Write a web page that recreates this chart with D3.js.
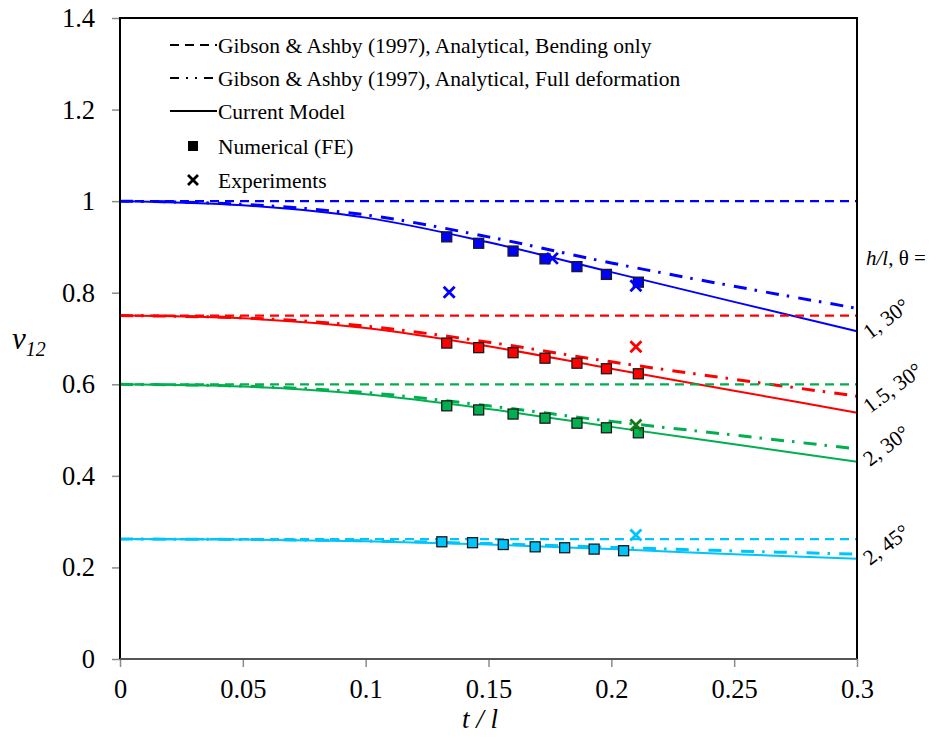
<!DOCTYPE html>
<html><head><meta charset="utf-8">
<script src="https://cdn.jsdelivr.net/npm/d3@7"></script>
<style>body{margin:0;background:#fff}svg{display:block}</style>
</head><body>
<svg id="c" width="949" height="738"></svg>
<script>
// ---- data ----
const xTicks = [0, 0.05, 0.1, 0.15, 0.2, 0.25, 0.3];
const xTickLabels = ["0", "0.05", "0.1", "0.15", "0.2", "0.25", "0.3"];
const yTicks = [0, 0.2, 0.4, 0.6, 0.8, 1, 1.2, 1.4];
const yTickLabels = ["0", "0.2", "0.4", "0.6", "0.8", "1", "1.2", "1.4"];

const seriesNames = ["1, 30°", "1.5, 30°", "2, 30°", "2, 45°"];
const seriesColors = ["#0000ff", "#ff0000", "#00b050", "#00c4fa"];
const expColors = ["#0000ff", "#ff0000", "#137a13", "#00c4fa"];

// Gibson & Ashby, bending only (constant)
const bendingOnly = [1.0, 0.75, 0.6, 0.262];

// curves sampled along t/l
const tCurve = [0, 0.05, 0.1, 0.15, 0.2, 0.25, 0.3];
const currentBlue  = [1.0, 0.991, 0.964, 0.910, 0.845, 0.780, 0.716];
const currentRed   = [0.75, 0.744, 0.723, 0.683, 0.634, 0.586, 0.538];
const currentGreen = [0.60, 0.595, 0.578, 0.546, 0.507, 0.469, 0.431];
const currentCyan  = [0.262, 0.261, 0.257, 0.250, 0.240, 0.229, 0.219];

const fullBlue  = [1.0, 0.993, 0.970, 0.922, 0.865, 0.814, 0.766];
const fullRed   = [0.75, 0.745, 0.727, 0.692, 0.649, 0.611, 0.574];
const fullGreen = [0.60, 0.596, 0.582, 0.553, 0.519, 0.489, 0.459];
const fullCyan  = [0.262, 0.261, 0.258, 0.252, 0.244, 0.236, 0.229];

// numerical (FE)
const feT      = [0.133, 0.146, 0.160, 0.173, 0.186, 0.198, 0.211];
const feBlue   = [0.922, 0.908, 0.891, 0.874, 0.857, 0.840, 0.823];
const feRed    = [0.690, 0.680, 0.669, 0.657, 0.646, 0.634, 0.623];
const feGreen  = [0.553, 0.544, 0.535, 0.526, 0.515, 0.505, 0.494];
const feTCyan  = [0.131, 0.1435, 0.156, 0.169, 0.181, 0.193, 0.205];
const feCyan   = [0.256, 0.254, 0.250, 0.245, 0.243, 0.240, 0.2365];

// experiments
const expTBlue = [0.134, 0.176, 0.210];
const expBlue  = [0.801, 0.875, 0.815];
const expTRed = [0.210], expRed = [0.682];
const expTGreen = [0.210], expGreen = [0.511];
const expTCyan = [0.210], expCyan = [0.271];

const legendLabels = [
  "Gibson & Ashby (1997), Analytical, Bending only",
  "Gibson & Ashby (1997), Analytical, Full deformation",
  "Current Model",
  "Numerical (FE)",
  "Experiments"
];

// ---- layout ----
const L = 120, R = 857, T = 18, B = 659;
const svg = d3.select("#c");
const x = d3.scaleLinear().domain([0, 0.3]).range([L, R]);
const y = d3.scaleLinear().domain([0, 1.4]).range([B, T]);
const serif = "'Liberation Serif','Times New Roman',Times,serif";

const currents = [currentBlue, currentRed, currentGreen, currentCyan];
const fulls = [fullBlue, fullRed, fullGreen, fullCyan];
const feTs = [feT, feT, feT, feTCyan];
const fes = [feBlue, feRed, feGreen, feCyan];
const expTs = [expTBlue, expTRed, expTGreen, expTCyan];
const exps = [expBlue, expRed, expGreen, expCyan];

const dashDot = "13,8,2.5,9.2";
const dashed = "9,6";

// axes ticks
const gx = svg.append("g").attr("transform", `translate(0,${B})`)
  .call(d3.axisBottom(x).tickValues(xTicks).tickFormat((d,i)=>xTickLabels[i]).tickSize(8).tickPadding(12));
const gy = svg.append("g").attr("transform", `translate(${L},0)`)
  .call(d3.axisLeft(y).tickValues(yTicks).tickFormat((d,i)=>yTickLabels[i]).tickSize(8).tickPadding(17));
[gx, gy].forEach(g => {
  g.attr("font-family", null);
  g.select(".domain").remove();
  g.selectAll(".tick line").attr("stroke", "#8c8c8c").attr("stroke-width", 1.5);
  g.selectAll(".tick text").style("font-family", serif).attr("font-size", 26.5).attr("fill", "#000");
});

const plot = svg.append("g");
const line = d3.line().x(d => x(d[0])).y(d => y(d[1])).curve(d3.curveMonotoneX);

for (let i = 0; i < 4; i++) {
  const c = seriesColors[i];
  plot.append("path").attr("d", line([[0, bendingOnly[i]], [0.3, bendingOnly[i]]]))
    .attr("fill", "none").attr("stroke", c).attr("stroke-width", 2.2).attr("stroke-dasharray", dashed);
  plot.append("path").attr("d", line(tCurve.map((t, k) => [t, fulls[i][k]])))
    .attr("fill", "none").attr("stroke", c).attr("stroke-width", 3).attr("stroke-dasharray", dashDot);
  plot.append("path").attr("d", line(tCurve.map((t, k) => [t, currents[i][k]])))
    .attr("fill", "none").attr("stroke", c).attr("stroke-width", 2);
}
for (let i = 0; i < 4; i++) {
  const c = seriesColors[i];
  plot.selectAll(null).data(feTs[i].map((t, k) => [t, fes[i][k]])).enter().append("rect")
    .attr("x", d => x(d[0]) - 5).attr("y", d => y(d[1]) - 5).attr("width", 10).attr("height", 10)
    .attr("fill", c).attr("stroke", "#1a1a1a").attr("stroke-width", 1.3);
}
function cross(g, cx, cy, s, color, w) {
  g.append("path").attr("d", `M${cx-s},${cy-s}L${cx+s},${cy+s}M${cx-s},${cy+s}L${cx+s},${cy-s}`)
    .attr("stroke", color).attr("stroke-width", w).attr("fill", "none");
}
for (let i = 0; i < 4; i++) {
  expTs[i].forEach((t, k) => cross(plot, x(t), y(exps[i][k]), 5.5, expColors[i], 2.8));
}

// frame
svg.append("path").attr("d", `M${L},${B}L${L},${T}L${R},${T}L${R},${B}`)
  .attr("fill", "none").attr("stroke", "#000").attr("stroke-width", 2);
svg.append("line").attr("x1", L).attr("x2", R).attr("y1", B).attr("y2", B)
  .attr("stroke", "#555").attr("stroke-width", 2.2);

// axis titles
svg.append("text").attr("x", 480).attr("y", 728).attr("text-anchor", "middle")
  .style("font-family", serif).attr("font-style", "italic").attr("font-size", 27).text("t / l");
const yl = svg.append("text").attr("x", 12).attr("y", 349)
  .style("font-family", serif).attr("font-style", "italic").attr("font-size", 31);
yl.append("tspan").text("v");
yl.append("tspan").attr("font-size", 20).attr("dy", 7).text("12");

// legend
const lg = svg.append("g").style("font-family", serif).attr("font-size", 21.5);
const rowY = [45, 78, 111, 146, 180];
legendLabels.forEach((s, k) => {
  lg.append("text").attr("x", 218).attr("y", rowY[k]).attr("dy", "0.35em").text(s);
});
lg.append("line").attr("x1", 170).attr("x2", 217).attr("y1", rowY[0]).attr("y2", rowY[0])
  .attr("stroke", "#000").attr("stroke-width", 2).attr("stroke-dasharray", "9,6");
lg.append("line").attr("x1", 170).attr("x2", 217).attr("y1", rowY[1]).attr("y2", rowY[1])
  .attr("stroke", "#000").attr("stroke-width", 2.2).attr("stroke-dasharray", "9,7,2,7,2,7,9");
lg.append("line").attr("x1", 170).attr("x2", 217).attr("y1", rowY[2]).attr("y2", rowY[2])
  .attr("stroke", "#000").attr("stroke-width", 2);
lg.append("rect").attr("x", 188).attr("y", rowY[3] - 5).attr("width", 10).attr("height", 10).attr("fill", "#000");
cross(lg, 193, rowY[4], 5, "#000", 2.8);

// right annotations
const ann = svg.append("text").attr("x", 866).attr("y", 265).style("font-family", serif).attr("font-size", 21);
ann.append("tspan").attr("font-style", "italic").text("h/l");
ann.append("tspan").text(", θ =");
const annPos = [[870, 340], [870, 414], [870, 467], [870, 566]];
seriesNames.forEach((s, i) => {
  svg.append("text").attr("transform", `translate(${annPos[i][0]},${annPos[i][1]}) rotate(-37)`)
    .style("font-family", serif).attr("font-size", 21.5).text(s);
});
</script>
</body></html>
